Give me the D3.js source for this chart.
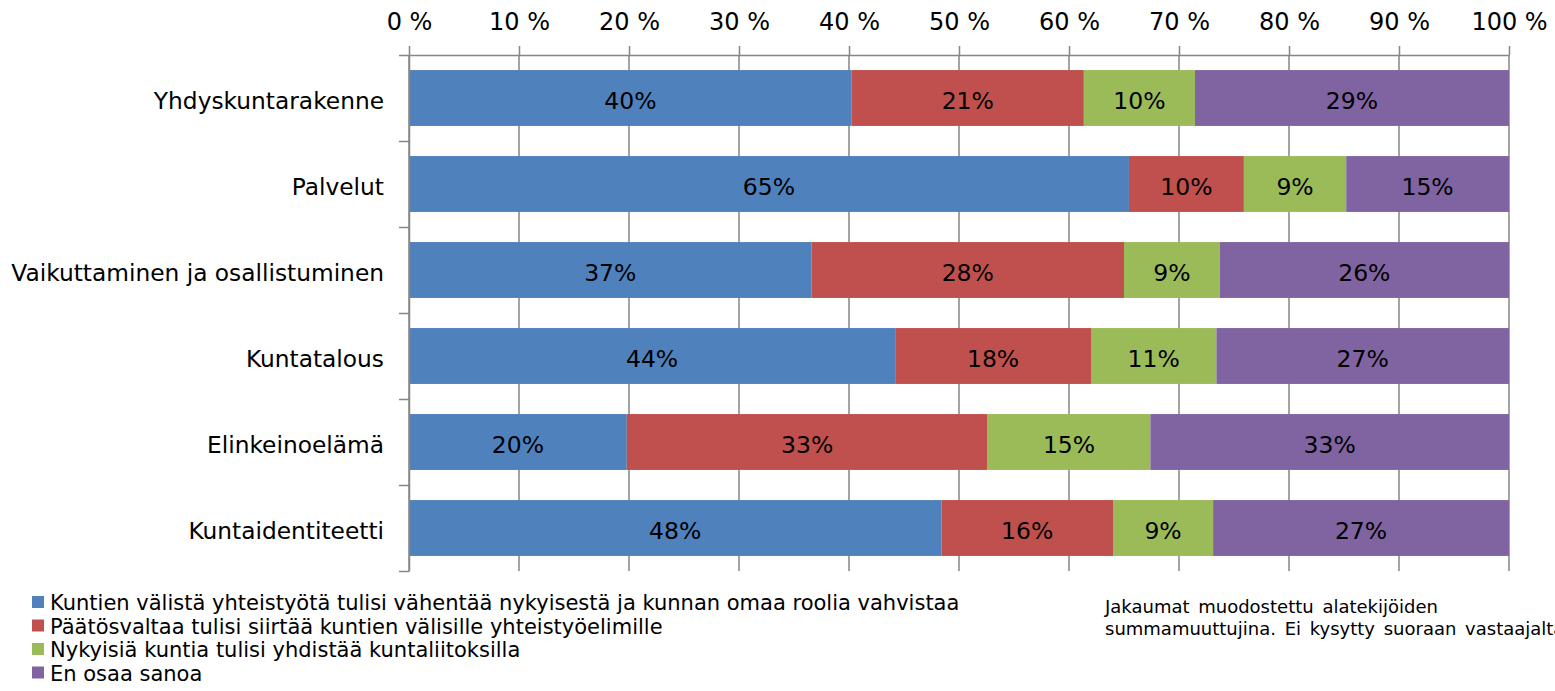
<!DOCTYPE html>
<html>
<head>
<meta charset="utf-8">
<script src="https://cdn.jsdelivr.net/npm/d3@7"></script>
<style>
  body { margin: 0; background: #fff; }
  text { font-family: "DejaVu Sans", sans-serif; fill: #000; }
</style>
</head>
<body>
<div class="chart"></div>
<script>
var categories = [
  "Yhdyskuntarakenne",
  "Palvelut",
  "Vaikuttaminen ja osallistuminen",
  "Kuntatalous",
  "Elinkeinoelämä",
  "Kuntaidentiteetti"
];
var seriesNames = [
  "Kuntien välistä yhteistyötä tulisi vähentää nykyisestä ja kunnan omaa roolia vahvistaa",
  "Päätösvaltaa tulisi siirtää kuntien välisille yhteistyöelimille",
  "Nykyisiä kuntia tulisi yhdistää kuntaliitoksilla",
  "En osaa sanoa"
];
// percentages per category, same order as categories
var vahentaa = [40.25, 65.45, 36.6, 44.2, 19.8, 48.4];
var siirtaa = [21.1, 10.45, 28.4, 17.8, 32.8, 15.6];
var yhdistaa = [10.1, 9.3, 8.7, 11.4, 14.8, 9.1];
var eiOsaa = [28.55, 14.8, 26.3, 26.6, 32.6, 26.9];
var xTicks = [0, 10, 20, 30, 40, 50, 60, 70, 80, 90, 100];
var noteLines = [
  "Jakaumat muodostettu alatekijöiden",
  "summamuuttujina. Ei kysytty suoraan vastaajalta"
];

var colors = ["#4F81BD", "#C0504D", "#9BBB59", "#8064A2"];
var gridColor = "#868686";

var fullWidth = 1555;
var fullHeight = 691;
var plot = { left: 409, right: 1509, top: 55, bottom: 571 };

var table = categories.map((c, i) => ({
  cat: c, s0: vahentaa[i], s1: siirtaa[i], s2: yhdistaa[i], s3: eiOsaa[i]
}));
var keys = ["s0", "s1", "s2", "s3"];
var stacked = d3.stack().keys(keys)(table);

var svg = d3
  .select(".chart")
  .append("svg")
  .attr("width", fullWidth)
  .attr("height", fullHeight);

var xScale = d3.scaleLinear().domain([0, 100]).range([plot.left, plot.right]);

var yScale = d3
  .scaleBand()
  .domain(categories)
  .range([plot.top, plot.bottom])
  .paddingInner(0.35)
  .paddingOuter(0.175);

// gridlines behind the bars
svg
  .append("g")
  .selectAll("line")
  .data(xTicks)
  .join("line")
  .attr("x1", d => xScale(d))
  .attr("x2", d => xScale(d))
  .attr("y1", plot.top)
  .attr("y2", plot.bottom)
  .attr("stroke", gridColor)
  .attr("stroke-width", 1.5);

// bars
var layers = svg
  .append("g")
  .selectAll("g")
  .data(stacked)
  .join("g")
  .attr("fill", (d, i) => colors[i]);

layers
  .selectAll("rect")
  .data(d => d)
  .join("rect")
  .attr("x", d => xScale(d[0]))
  .attr("width", d => xScale(d[1]) - xScale(d[0]))
  .attr("y", d => yScale(d.data.cat))
  .attr("height", yScale.bandwidth());

layers
  .selectAll("text")
  .data(d => d)
  .join("text")
  .attr("x", d => (xScale(d[0]) + xScale(d[1])) / 2)
  .attr("y", d => yScale(d.data.cat) + yScale.bandwidth() / 2)
  .attr("dy", "0.45em")
  .attr("text-anchor", "middle")
  .style("font-size", "23.5px")
  .text(d => Math.round(d[1] - d[0]) + "%");

// top axis
var xAxis = svg
  .append("g")
  .attr("transform", `translate(0, ${plot.top})`)
  .call(
    d3
      .axisTop(xScale)
      .tickValues(xTicks)
      .tickFormat(d => d + " %")
      .tickSize(9)
      .tickSizeOuter(0)
      .tickPadding(16)
  );
xAxis.selectAll("path, line").attr("stroke", gridColor).attr("stroke-width", 1.5);
xAxis.selectAll("text").style("font-size", "24px").attr("fill", "#000");
xAxis.attr("font-family", null);

// left axis: boundary ticks between categories
var yIdx = d3.scaleLinear().domain([0, categories.length]).range([plot.top, plot.bottom]);
var yAxis = svg
  .append("g")
  .attr("transform", `translate(${plot.left}, 0)`)
  .call(
    d3
      .axisLeft(yIdx)
      .tickValues(d3.range(categories.length + 1))
      .tickFormat("")
      .tickSize(10)
      .tickSizeOuter(0)
  );
yAxis.selectAll("path, line").attr("stroke", gridColor).attr("stroke-width", 1.5);

// category labels
var catAxis = svg
  .append("g")
  .attr("transform", `translate(${plot.left}, 0)`)
  .call(d3.axisLeft(yScale).tickSize(0).tickPadding(25));
catAxis.select(".domain").remove();
catAxis.attr("font-family", null);
catAxis
  .selectAll("text")
  .style("font-size", "23.3px")
  .attr("fill", "#000")
  .attr("dy", "0.45em");

// legend
var legend = svg
  .append("g")
  .selectAll("g")
  .data(seriesNames)
  .join("g")
  .attr("transform", (d, i) => `translate(32, ${610 + i * 23.5})`);

legend
  .append("rect")
  .attr("y", -14)
  .attr("width", 12)
  .attr("height", 12)
  .attr("fill", (d, i) => colors[i]);

legend
  .append("text")
  .attr("x", 18)
  .style("font-size", "21px")
  .text(d => d);

// note (second line runs off the right edge, as in the original)
svg
  .append("g")
  .selectAll("text")
  .data(noteLines)
  .join("text")
  .attr("x", 1105)
  .attr("y", (d, i) => 613 + i * 22)
  .style("font-size", "18px")
  .style("word-spacing", "3px")
  .text(d => d);
</script>
</body>
</html>
